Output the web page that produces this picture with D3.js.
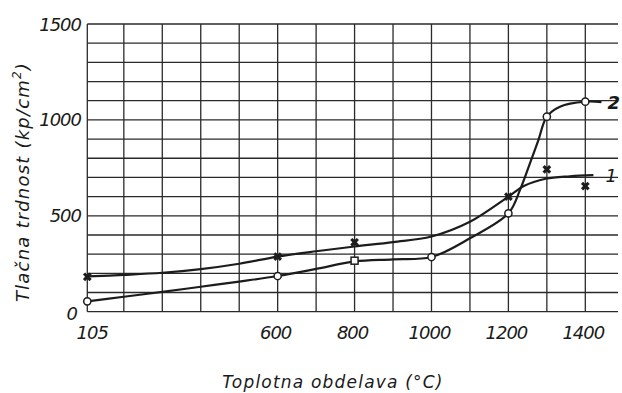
<!DOCTYPE html>
<html>
<head>
<meta charset="utf-8">
<script src="https://cdn.jsdelivr.net/npm/d3@7"></script>
<style>
  html, body { margin: 0; padding: 0; background: #fff; }
  svg { display: block; }
  text { font-family: "DejaVu Sans", sans-serif; font-style: italic; fill: #1a1a1a; }
</style>
</head>
<body>
<svg id="chart" width="622" height="393"></svg>
<script>
// ---- data ----
const xTickValues = [105, 600, 800, 1000, 1200, 1400];
const xTickLabels = ["105", "600", "800", "1000", "1200", "1400"];
const yTickValues = [0, 500, 1000, 1500];
const yTickLabels = ["0", "500", "1000", "1500"];
const xGridValues = [105, 200, 300, 400, 500, 600, 700, 800, 900, 1000, 1100, 1200, 1300, 1400];
const yGridValues = [0, 100, 200, 300, 400, 500, 600, 700, 800, 900, 1000, 1100, 1200, 1300, 1400, 1500];

// curve 1 (fitted line) and its measured points (crosses)
const curve1X = [105, 200, 300, 400, 500, 600, 700, 800, 900, 1000, 1100, 1200, 1240, 1297, 1360, 1421];
const curve1Y = [184, 192, 203, 222, 250, 287, 315, 340, 363, 392, 469, 600, 655, 693, 706, 712];
const points1X = [105, 600, 800, 1200, 1300, 1400];
const points1Y = [182, 287, 362, 600, 742, 655];

// curve 2 (fitted line) and its measured points (open circles / square)
const curve2X = [105, 200, 300, 400, 500, 600, 700, 800, 900, 1000, 1100, 1200, 1230, 1256, 1278, 1300, 1334, 1400, 1442];
const curve2Y = [54, 78, 103, 130, 157, 186, 223, 262, 273, 285, 383, 513, 634, 773, 895, 1017, 1069, 1095, 1093];
const points2X = [105, 600, 800, 1000, 1200, 1300, 1400];
const points2Y = [54, 186, 266, 285, 513, 1017, 1095];
const points2Shape = ["circle", "circle", "square", "circle", "circle", "circle", "circle"];

const seriesLabels = ["1", "2"];
const xTitle = "Toplotna obdelava (°C)";
const yTitleMain = "Tlačna trdnost (kp/cm";
const yTitleSup = "2";
const yTitleEnd = ")";

// ---- drawing ----
const svg = d3.select("#chart");
const x = d3.scaleLinear().domain([105, 1485]).range([87.3, 618]);
const y = d3.scaleLinear().domain([0, 1500]).range([311.7, 24]);

const ink = "#1c1c1c";
const grid = svg.append("g");
grid.selectAll("line.h").data(yGridValues).enter().append("line")
  .attr("x1", x(105)).attr("x2", x(1485))
  .attr("y1", d => y(d)).attr("y2", d => y(d))
  .attr("stroke", "#2a2a2a").attr("stroke-width", 1.3);
grid.selectAll("line.v").data(xGridValues).enter().append("line")
  .attr("x1", d => x(d)).attr("x2", d => x(d))
  .attr("y1", y(0)).attr("y2", y(1500))
  .attr("stroke", "#2a2a2a").attr("stroke-width", 1.3);

// tick labels
svg.append("g").selectAll("text").data(xTickValues).enter().append("text")
  .attr("x", d => x(d) + (d === 105 ? 5 : -2))
  .attr("y", 339)
  .attr("text-anchor", "middle")
  .attr("font-size", 18)
  .attr("letter-spacing", -1)
  .text((d, i) => xTickLabels[i]);

svg.append("g").selectAll("text").data(yTickValues).enter().append("text")
  .attr("x", d => d === 0 ? 77 : 81)
  .attr("y", d => y(d) + 6.5 + (d === 0 ? 2 : 0))
  .attr("text-anchor", "end")
  .attr("font-size", 18)
  .attr("letter-spacing", -1)
  .text((d, i) => yTickLabels[i]);

// axis titles
svg.append("text")
  .attr("x", 333).attr("y", 388)
  .attr("text-anchor", "middle")
  .attr("font-size", 17)
  .attr("letter-spacing", 1.2)
  .attr("xml:space", "preserve")
  .text(xTitle);

const yt = svg.append("text")
  .attr("transform", "translate(29,182) rotate(-90)")
  .attr("text-anchor", "middle")
  .attr("font-size", 18)
  .attr("letter-spacing", 1.2);
yt.append("tspan").text(yTitleMain);
yt.append("tspan").attr("font-size", 12).attr("dy", -8).text(yTitleSup);
yt.append("tspan").attr("dy", 8).text(yTitleEnd);

// curves
const line = d3.line().x(d => x(d[0])).y(d => y(d[1])).curve(d3.curveCatmullRom.alpha(0.5));
const c1 = curve1X.map((v, i) => [v, curve1Y[i]]);
const c2 = curve2X.map((v, i) => [v, curve2Y[i]]);
svg.append("path").attr("d", line(c1)).attr("fill", "none").attr("stroke", ink).attr("stroke-width", 2.2);
svg.append("path").attr("d", line(c2)).attr("fill", "none").attr("stroke", ink).attr("stroke-width", 2.2);

// markers series 1 (filled crosses)
const crossSym = d3.symbol().type(d3.symbolCross).size(48);
svg.append("g").selectAll("path").data(points1X).enter().append("path")
  .attr("d", crossSym())
  .attr("transform", (d, i) => `translate(${x(d)},${y(points1Y[i])}) rotate(45)`)
  .attr("fill", ink);

// markers series 2 (open circles, one square)
const g2 = svg.append("g");
points2X.forEach((v, i) => {
  if (points2Shape[i] === "square") {
    g2.append("rect").attr("x", x(v) - 3.5).attr("y", y(points2Y[i]) - 3.5)
      .attr("width", 7).attr("height", 7)
      .attr("fill", "#fff").attr("stroke", ink).attr("stroke-width", 1.5);
  } else {
    g2.append("circle").attr("cx", x(v)).attr("cy", y(points2Y[i])).attr("r", 3.6)
      .attr("fill", "#fff").attr("stroke", ink).attr("stroke-width", 1.5);
  }
});

// series labels at curve ends
const end1 = c1[c1.length - 1], end2 = c2[c2.length - 1];
svg.append("text").attr("x", x(end1[0]) + 12).attr("y", y(end1[1]) + 7)
  .attr("font-size", 18).text(seriesLabels[0]);
svg.append("text").attr("x", x(end2[0]) + 6).attr("y", y(end2[1]) + 7)
  .attr("font-size", 18).attr("font-weight", "bold").text(seriesLabels[1]);
</script>
</body>
</html>
